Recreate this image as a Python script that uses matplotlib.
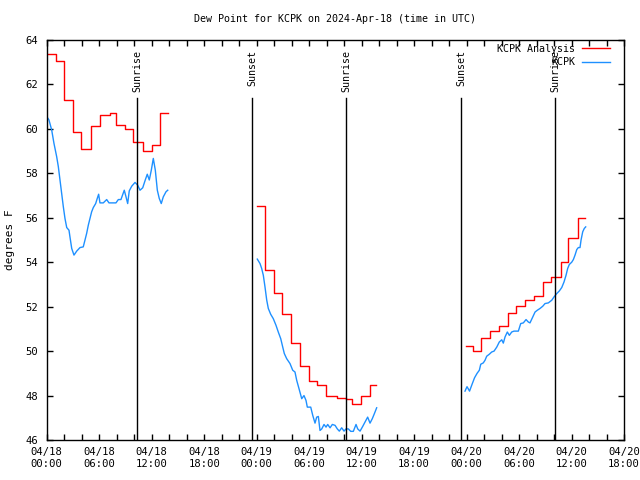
import matplotlib
matplotlib.use('Agg')
import matplotlib.pyplot as plt
import numpy as np

# times are hours since 2024-04-18 00:00 UTC
# KCPK Analysis (red, stepped), three pieces
ana_t1 = [0.15, 1.0, 2.0, 2.95, 3.95, 5.0, 6.05, 7.2, 7.95, 8.95, 9.85, 11.0, 12.05, 13.0, 13.9]
ana_v1 = [63.36, 63.04, 61.3, 59.85, 59.08, 60.13, 60.62, 60.7, 60.17, 60.0, 59.42, 59.0, 59.27, 60.7, 60.7]
ana_t2 = [24.05, 24.9, 26.0, 26.95, 27.9, 28.95, 30.0, 30.95, 31.9, 33.2, 34.2, 34.95, 35.9, 36.9, 37.7]
ana_v2 = [56.52, 53.64, 52.6, 51.66, 50.38, 49.32, 48.65, 48.46, 48.0, 47.91, 47.86, 47.64, 47.96, 48.49, 48.49]
ana_t3 = [47.9, 48.7, 49.7, 50.7, 51.7, 52.7, 53.7, 54.7, 55.7, 56.7, 57.6, 58.8, 59.6, 60.7, 61.5]
ana_v3 = [50.22, 49.99, 50.6, 50.92, 51.15, 51.73, 52.05, 52.29, 52.5, 53.09, 53.34, 54.03, 55.07, 55.97, 55.97]

# KCPK observations (blue)
obs_t1 = [0.14, 0.25, 0.56, 0.82, 1.13, 1.32, 1.51, 1.70, 1.89, 2.08,
          2.28, 2.54, 2.65, 2.85, 3.11, 3.42, 3.80, 4.17, 4.37, 4.56,
          4.75, 4.94, 5.13, 5.32, 5.59, 5.77, 5.93, 6.08, 6.46, 6.85,
          7.11, 7.91, 8.18, 8.48, 8.86, 9.06, 9.25, 9.43, 9.71, 10.09,
          10.39, 10.66, 10.97, 11.26, 11.49, 11.72, 11.95, 12.18, 12.41, 12.64,
          12.86, 13.09, 13.32, 13.63, 13.83]
obs_v1 = [60.47, 60.4, 59.95, 59.35, 58.75, 58.3, 57.7, 57.1, 56.5, 55.97,
          55.56, 55.44, 55.14, 54.62, 54.32, 54.5, 54.66, 54.69, 55.0, 55.3,
          55.67, 55.97, 56.27, 56.46, 56.64, 56.87, 57.06, 56.67, 56.67, 56.82,
          56.67, 56.67, 56.82, 56.82, 57.24, 56.94, 56.64, 57.21, 57.42, 57.59,
          57.47, 57.24, 57.35, 57.7, 57.96, 57.7, 58.14, 58.67, 58.14, 57.24,
          56.87, 56.64, 56.94, 57.17, 57.24]
obs_t2 = [24.07, 24.38, 24.57, 24.76, 24.95, 25.15, 25.33, 25.6, 25.9, 26.21,
          26.47, 26.75, 26.98, 27.16, 27.43, 27.81, 28.12, 28.38, 28.58, 28.84,
          29.15, 29.41, 29.64, 29.79, 30.18, 30.41, 30.67, 30.86, 31.05, 31.24,
          31.44, 31.7, 31.93, 32.12, 32.39, 32.65, 32.96, 33.22, 33.45, 33.72,
          33.99, 34.21, 34.48, 34.75, 35.05, 35.36, 35.55, 35.82, 36.12, 36.39,
          36.69, 36.96, 37.22, 37.45, 37.72]
obs_v2 = [54.14, 53.94, 53.72, 53.41, 52.89, 52.29, 51.92, 51.66, 51.46, 51.16,
          50.86, 50.56, 50.18, 49.89, 49.66, 49.44, 49.14, 49.06, 48.68, 48.31,
          47.86, 48.0, 47.78, 47.48, 47.48, 47.11, 46.76, 47.03, 47.06, 46.43,
          46.5, 46.7, 46.58, 46.7, 46.55, 46.7, 46.66, 46.5, 46.4, 46.55,
          46.4, 46.5, 46.5, 46.39, 46.39, 46.7, 46.5, 46.4, 46.61, 46.81,
          47.03, 46.76, 46.96, 47.18, 47.45]
obs_t3 = [47.82, 48.05, 48.34, 48.62, 48.91, 49.2,
          49.46, 49.62, 49.91, 50.11, 50.3, 50.6, 50.87, 51.14, 51.45, 51.74,
          52.02, 52.2, 52.4, 52.66, 52.89, 53.16, 53.42, 53.92, 54.19, 54.49,
          54.8, 55.06, 55.25, 55.56, 55.83, 56.09, 56.4, 56.71, 56.97, 57.35,
          57.74, 58.0, 58.31, 58.61, 58.88, 59.14, 59.37, 59.56, 59.75, 60.02,
          60.21, 60.4, 60.6, 60.78, 60.97, 61.09, 61.28, 61.46, 61.62]
obs_v3 = [48.2, 48.4, 48.2, 48.5, 48.8, 49.0,
          49.14, 49.41, 49.47, 49.59, 49.77, 49.86, 49.96, 50.0, 50.18, 50.41,
          50.51, 50.36, 50.64, 50.86, 50.71, 50.86, 50.9, 50.9, 51.24, 51.27,
          51.42, 51.31, 51.27, 51.53, 51.76, 51.84, 51.92, 52.02, 52.14, 52.17,
          52.29, 52.44, 52.59, 52.71, 52.86, 53.11, 53.41, 53.72, 53.9, 54.0,
          54.12, 54.32, 54.57, 54.66, 54.66, 55.0, 55.37, 55.52, 55.59]

sunrise = [10.35, 34.25, 58.15]
sunset = [23.5, 47.4]

tick_hours = list(range(0, 67, 6))
tick_labels = ['04/18\n00:00', '04/18\n06:00', '04/18\n12:00', '04/18\n18:00',
               '04/19\n00:00', '04/19\n06:00', '04/19\n12:00', '04/19\n18:00',
               '04/20\n00:00', '04/20\n06:00', '04/20\n12:00', '04/20\n18:00']

plt.rcParams['font.family'] = 'DejaVu Sans Mono'
plt.rcParams['font.size'] = 7.6

fig = plt.figure(figsize=(6.4, 4.8), dpi=100)
ax = fig.add_axes([0.0731, 0.0833, 0.9019, 0.8334])

red = '#ff0000'
blue = '#1e90ff'
for i, (t, v) in enumerate([(ana_t1, ana_v1), (ana_t2, ana_v2), (ana_t3, ana_v3)]):
    ax.plot(t, v, drawstyle='steps-post', color=red, lw=1,
            label='KCPK Analysis' if i == 0 else None)
for i, (t, v) in enumerate([(obs_t1, obs_v1), (obs_t2, obs_v2), (obs_t3, obs_v3)]):
    ax.plot(t, v, color=blue, lw=1, label='KCPK' if i == 0 else None)

# sunrise / sunset markers
for name, times in [('Sunrise', sunrise), ('Sunset', sunset)]:
    for t in times:
        ax.axvline(t, ymin=0, ymax=0.855, color='black', lw=1)
        ax.text(t, 0.975, name, transform=ax.get_xaxis_transform(),
                rotation=90, ha='center', va='top', fontsize=7.2)

ax.set_xlim(0, 66)
ax.set_ylim(46, 64)
ax.set_xticks(tick_hours)
ax.set_xticklabels(tick_labels)
ax.set_xticks(range(0, 67, 2), minor=True)
ax.set_yticks(range(46, 65, 2))
ax.tick_params(which='both', direction='in', top=True, right=True,
               length=4, width=1)
ax.tick_params(axis='x', pad=5)
ax.tick_params(axis='y', pad=6)
for s in ax.spines.values():
    s.set_linewidth(1)

ax.set_title('Dew Point for KCPK on 2024-Apr-18 (time in UTC)', pad=13, fontsize=7.2)
ax.set_ylabel('degrees F', labelpad=8, fontsize=8)

ax.legend(loc='upper right', bbox_to_anchor=(0.976, 0.99), frameon=False,
          markerfirst=False, handlelength=2.8, handletextpad=0.7,
          labelspacing=0.35, borderaxespad=0, borderpad=0, fontsize=7.2)

plt.savefig('out.png', dpi=100)
